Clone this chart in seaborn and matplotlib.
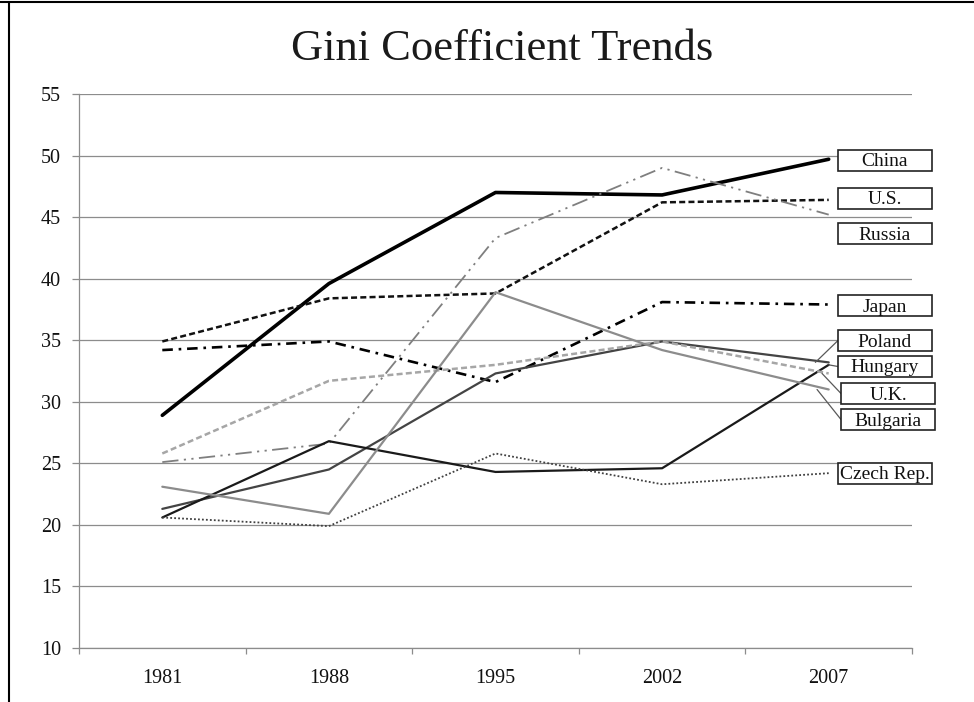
import matplotlib
matplotlib.use("Agg")
import matplotlib.pyplot as plt
import seaborn as sns
import pandas as pd
from matplotlib.patches import Rectangle
from matplotlib.lines import Line2D

# ---------------- data ----------------
years = ["1981", "1988", "1995", "2002", "2007"]
china = [28.9, 39.6, 47.0, 46.8, 49.7]
us = [34.9, 38.4, 38.8, 46.2, 46.4]
russia = [25.1, 26.6, 43.3, 49.0, 45.2]
japan = [34.2, 34.9, 31.6, 38.1, 37.9]
poland = [21.3, 24.5, 32.3, 34.9, 33.2]
hungary = [20.6, 26.8, 24.3, 24.6, 33.0]
uk = [25.8, 31.7, 33.0, 34.9, 32.3]
bulgaria = [23.1, 20.9, 38.9, 34.2, 31.0]
czech = [20.6, 19.9, 25.8, 23.3, 24.2]
yticks = [10, 15, 20, 25, 30, 35, 40, 45, 50, 55]

series_names = ["China", "U.S.", "Russia", "Japan", "Poland", "Hungary", "U.K.", "Bulgaria", "Czech Rep."]
series_vals = [china, us, russia, japan, poland, hungary, uk, bulgaria, czech]

# ---------------- styles ----------------
styles = {
    "China":      dict(color="#000000", lw=2.6, ls="-"),
    "U.S.":       dict(color="#111111", lw=1.8, ls=(0, (2.4, 1.3))),
    "Russia":     dict(color="#7f7f7f", lw=1.3, ls=(0, (9, 3, 1.2, 3, 1.2, 3))),
    "Japan":      dict(color="#000000", lw=1.9, ls=(0, (4, 2.2, 1, 2.2))),
    "Poland":     dict(color="#444444", lw=1.6, ls="-"),
    "Hungary":    dict(color="#1a1a1a", lw=1.6, ls="-"),
    "U.K.":       dict(color="#a6a6a6", lw=1.8, ls=(0, (2.4, 1.3))),
    "Bulgaria":   dict(color="#8c8c8c", lw=1.6, ls="-"),
    "Czech Rep.": dict(color="#404040", lw=1.3, ls=(0, (1, 1.2))),
}

W, H = 974, 702
fig = plt.figure(figsize=(W / 100, H / 100), dpi=100)
sns.set_style("white")
plt.rcParams["font.family"] = ["Liberation Serif", "DejaVu Serif"]
FAM = ["Liberation Serif", "DejaVu Serif"]

ax = fig.add_axes([79 / W, 1 - 648 / H, (912 - 79) / W, (648 - 94) / H])

xpos = list(range(len(years)))
for name, vals in zip(series_names, series_vals):
    st = styles[name]
    sns.lineplot(x=xpos, y=vals, ax=ax, color=st["color"], linewidth=st["lw"],
                 linestyle=st["ls"], sort=False, legend=False, zorder=3)

grid_c = "#8c8c8c"
ax.set_xlim(-0.5, 4.5)
ax.set_ylim(10, 55)
ax.set_yticks(yticks)
ax.set_yticklabels([str(t) for t in yticks], fontsize=14.5, family=FAM, color="#111111")
ax.yaxis.grid(True, color=grid_c, lw=0.9)
ax.xaxis.grid(False)
ax.set_axisbelow(True)
ax.tick_params(axis="y", direction="out", length=5, width=0.9, color=grid_c, pad=8, left=True)

ax.set_xticks([-0.5, 0.5, 1.5, 2.5, 3.5, 4.5])
ax.set_xticklabels([])
ax.set_xticks(xpos, minor=True)
ax.set_xticklabels(years, minor=True, fontsize=14.5, family=FAM, color="#111111")
ax.tick_params(axis="x", which="major", direction="out", length=4.5, width=0.9, color=grid_c, bottom=True)
ax.tick_params(axis="x", which="minor", length=0, pad=15)

for s in ["top", "right"]:
    ax.spines[s].set_visible(False)
for s in ["left", "bottom"]:
    ax.spines[s].set_color(grid_c)
    ax.spines[s].set_linewidth(0.9)
ax.set_xlabel("")
ax.set_ylabel("")

# ---------------- title ----------------
fig.text(502.5 / W, 1 - 60 / H, "Gini Coefficient Trends", ha="center", va="baseline",
         fontsize=32, family=FAM, color="#1a1a1a")

# ---------------- label boxes ----------------
# (left px, center y px, leader end x in data or None)
box_layout = {
    "China":      (838, 160, None),
    "U.S.":       (838, 198, None),
    "Russia":     (838, 233.5, None),
    "Japan":      (838, 306, None),
    "Poland":     (838, 340.5, 3.92),
    "Hungary":    (838, 366.5, 4.0),
    "U.K.":       (841, 393.5, 3.96),
    "Bulgaria":   (841, 419.5, 3.93),
    "Czech Rep.": (838, 473, None),
}
bw, bh = 94, 21
for name, vals in zip(series_names, series_vals):
    lx, cy, lead = box_layout[name]
    fig.add_artist(Rectangle((lx / W, 1 - (cy + bh / 2) / H), bw / W, bh / H,
                             transform=fig.transFigure, facecolor="white",
                             edgecolor="#222222", lw=1.2, zorder=5))
    fig.text((lx + bw / 2) / W, 1 - (cy + 1.5) / H, name, ha="center", va="center",
             fontsize=14, family=FAM, zorder=6, color="#111111")
    if lead is not None:
        ax.annotate("", xy=(lead, vals[-1]), xycoords="data",
                    xytext=(lx / W, 1 - cy / H), textcoords="figure fraction",
                    arrowprops=dict(arrowstyle="-", color="#595959", lw=0.9,
                                    shrinkA=0, shrinkB=0), annotation_clip=False)

# ---------------- frame ----------------
fig.add_artist(Line2D([0, 1], [1 - 1.5 / H, 1 - 1.5 / H], transform=fig.transFigure,
                      color="black", lw=1.5))
fig.add_artist(Line2D([8.5 / W, 8.5 / W], [0, 1 - 1.5 / H], transform=fig.transFigure,
                      color="black", lw=1.5))

fig.savefig("out.png", dpi=100, facecolor="white")
